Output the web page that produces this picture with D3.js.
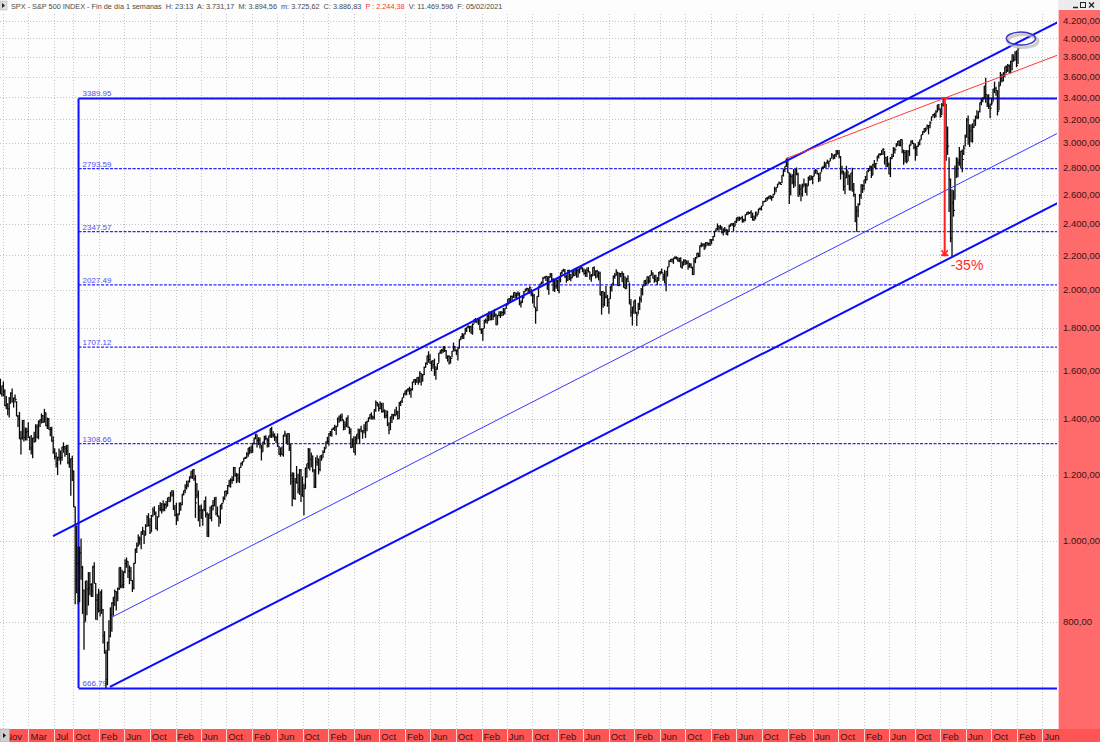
<!DOCTYPE html>
<html>
<head>
<meta charset="utf-8">
<script src="https://cdn.jsdelivr.net/npm/d3@7"></script>
<style>
  html, body { margin: 0; padding: 0; background: #fff; }
  svg { display: block; font-family: "Liberation Sans", Arial, sans-serif; }
</style>
</head>
<body>
<div id="chart"></div>
<script>

// weekly bars, first bar is the week ending 2007-10-19, one bar every 7 days
var firstWeek = "2007-10-19";

var weekHigh = [
  1565,1535,1553,1520,1492,1462,1488,1508,1523,1485,1498,
  1471,1416,1428,1355,1396,1396,1368,1367,1388,1335,1340,1330,1352,1380,1380,1395,1399,1422,1416,1440,1426,1406,1404,1370,1371,1335,1292,1278,1262,1291,1284,1297,1313,1300,1304,1304,1275,1256,1265,1215,1100,1044,985,985,1007,934,875,896,896,918,918,890,
  934,943,891,865,877,870,875,829,780,741,758,804,833,845,857,875,871,880,930,931,924,920,951,956,946,935,931,898,942,979,996,1018,1013,1027,1040,1029,1048,1074,1080,1065,1075,1097,1101,1085,1071,1105,1113,1111,1119,1110,1117,1127,1130,
  1145,1151,1150,1105,1112,1080,1112,1113,1139,1150,1170,1181,1182,1195,1214,1218,1220,1200,1174,1150,1104,1106,1092,1119,1131,1083,1078,1100,1103,1120,1129,1130,1100,1073,1105,1111,1131,1148,1150,1167,1184,1189,1196,1227,1227,1207,1205,1225,1241,1246,1258,1262,
  1278,1293,1297,1302,1311,1330,1344,1342,1332,1331,1303,1315,1337,1339,1328,1337,1364,1371,1354,1346,1334,1346,1300,1295,1298,1340,1356,1343,1347,1345,1307,1209,1208,1190,1230,1204,1220,1220,1195,1171,1224,1238,1293,1292,1277,1266,1219,1260,1267,1255,1265,1269,
  1285,1297,1316,1333,1346,1355,1363,1368,1378,1374,1405,1414,1419,1422,1396,1392,1406,1415,1370,1365,1328,1335,1335,1343,1364,1362,1374,1357,1380,1390,1394,1406,1419,1426,1413,1438,1474,1467,1460,1470,1464,1464,1438,1434,1433,1388,1409,1421,1420,1438,1448,1432,
  1467,1472,1485,1503,1514,1518,1525,1531,1525,1552,1564,1564,1570,1573,1597,1589,1585,1618,1636,1667,1688,1674,1644,1648,1654,1620,1632,1680,1693,1698,1710,1709,1693,1669,1670,1665,1689,1729,1712,1696,1704,1745,1759,1775,1771,1798,1804,1813,1810,1812,1823,1844,
  1850,1843,1850,1850,1799,1798,1841,1847,1867,1883,1883,1883,1884,1897,1873,1865,1885,1885,1885,1902,1901,1924,1950,1955,1968,1968,1985,1986,1984,1991,1985,1942,1964,1993,2006,2011,2008,2019,2005,1985,1977,1906,1965,2018,2034,2046,2071,2075,2079,2075,2077,2094,
  2093,2064,2056,2064,2057,2072,2097,2110,2119,2118,2083,2114,2114,2089,2103,2111,2120,2125,2117,2123,2134,2126,2121,2115,2126,2129,2101,2088,2128,2132,2110,2113,2105,2102,1993,1992,1988,2021,1972,1952,2020,2034,2080,2094,2116,2100,2097,2094,2104,2093,2076,2067,2082,
  2038,1950,1908,1940,1947,1881,1930,1963,2009,2022,2052,2056,2075,2074,2083,2111,2099,2084,2084,2072,2100,2106,2120,2091,2113,2104,2131,2169,2176,2178,2184,2194,2193,2187,2184,2187,2163,2176,2175,2165,2169,2154,2152,2132,2183,2189,2214,2214,2259,2278,2274,2273,
  2282,2279,2276,2300,2300,2319,2352,2368,2401,2387,2391,2382,2370,2378,2366,2362,2392,2399,2404,2405,2418,2440,2446,2448,2442,2453,2433,2463,2477,2484,2478,2491,2474,2454,2480,2475,2500,2509,2520,2553,2557,2576,2582,2588,2598,2590,2605,2657,2652,2679,2695,2692,
  2743,2787,2810,2873,2870,2763,2755,2747,2790,2787,2802,2761,2675,2673,2680,2718,2683,2682,2732,2742,2742,2736,2779,2791,2779,2760,2764,2801,2816,2848,2841,2863,2855,2877,2916,2900,2908,2941,2940,2940,2891,2816,2778,2765,2815,2775,2747,2760,2800,2685,2607,2520,
  2538,2604,2675,2672,2708,2738,2775,2796,2818,2816,2831,2860,2836,2893,2910,2917,2939,2954,2932,2885,2892,2841,2884,2910,2964,2960,2996,3014,3018,3028,3027,2944,2941,2939,2940,2985,3020,3022,3000,2993,2975,3008,3027,3067,3097,3121,3128,3155,3150,3183,3226,3248,
  3258,3282,3330,3338,3294,3347,3385,3393,3337,3137,2882,2718,2637,2632,2818,2880,2871,2965,2935,2945,2980,3068,3211,3233,3156,3155,3165,3200,3233,3280,3272,3352,3387,3399,3509,3588,3425,3429,3342,3397,3482,3550,3501,3465,3549,3646,3628,3644,3700,3712,3726,3723,3760,
  3826,3819,3860,3870,3895
];

var weekLow = [
  1500,1490,1490,1450,1438,1415,1406,1460,1467,1445,1465,
  1411,1370,1325,1270,1323,1316,1320,1320,1330,1285,1270,1257,1312,1315,1328,1324,1370,1383,1385,1387,1373,1362,1360,1335,1315,1272,1252,1225,1200,1248,1235,1248,1276,1262,1268,1236,1224,1133,1180,1098,840,866,840,845,899,818,741,801,815,837,861,857,
  857,890,805,804,821,812,818,754,733,667,672,739,767,779,814,836,826,847,874,878,878,878,915,929,903,888,896,869,875,940,968,985,990,978,1017,992,1016,1040,1041,1020,1026,1070,1074,1033,1029,1068,1086,1079,1085,1086,1093,1100,1114,
  1116,1130,1090,1071,1045,1056,1075,1087,1105,1134,1141,1153,1160,1175,1188,1187,1181,1066,1125,1056,1040,1064,1043,1086,1067,1011,1011,1063,1056,1088,1101,1074,1069,1040,1049,1091,1112,1120,1131,1138,1160,1159,1171,1180,1194,1173,1176,1174,1224,1232,1245,1254,
  1257,1262,1271,1275,1276,1305,1324,1294,1303,1291,1249,1279,1305,1321,1294,1295,1330,1329,1331,1318,1311,1296,1268,1262,1268,1262,1333,1309,1303,1282,1168,1101,1122,1121,1172,1140,1136,1114,1131,1074,1155,1191,1221,1215,1226,1209,1158,1158,1231,1202,1212,1248,
  1259,1275,1291,1309,1301,1335,1333,1358,1355,1340,1372,1386,1391,1392,1357,1358,1369,1367,1343,1292,1294,1277,1267,1306,1324,1309,1350,1326,1345,1329,1354,1389,1399,1398,1397,1398,1429,1449,1430,1438,1425,1426,1403,1403,1373,1343,1359,1385,1398,1411,1416,1398,
  1402,1451,1463,1485,1495,1495,1510,1497,1485,1515,1548,1538,1546,1539,1548,1536,1553,1581,1613,1625,1635,1631,1598,1608,1577,1560,1604,1635,1676,1676,1681,1684,1654,1640,1627,1633,1660,1688,1687,1670,1646,1700,1740,1746,1746,1768,1780,1799,1779,1772,1767,1821,
  1827,1823,1815,1790,1770,1737,1798,1824,1821,1834,1839,1839,1840,1856,1814,1816,1859,1850,1859,1862,1868,1899,1915,1925,1930,1944,1955,1952,1955,1965,1916,1904,1928,1955,1990,1991,1985,1978,1964,1926,1905,1821,1886,1960,2014,2030,2033,2064,2049,2002,1973,2069,
  2046,1992,1988,2005,1993,1981,2041,2086,2103,2067,2039,2049,2055,2048,2064,2075,2080,2067,2068,2092,2115,2099,2085,2072,2072,2097,2056,2044,2077,2078,2063,2067,2052,1970,1867,1903,1911,1953,1908,1872,1951,1990,2022,2062,2080,2022,2019,2070,2042,2012,2005,2005,2043,
  1922,1857,1812,1872,1872,1810,1871,1891,1931,1969,2018,2022,2035,2033,2039,2080,2063,2039,2044,2025,2050,2085,2090,2050,2037,1992,2074,2131,2159,2156,2148,2177,2173,2160,2158,2127,2119,2139,2141,2144,2114,2125,2122,2083,2085,2152,2182,2187,2191,2248,2254,2233,
  2245,2258,2258,2257,2267,2288,2313,2345,2355,2354,2359,2335,2322,2344,2328,2322,2348,2380,2386,2352,2382,2403,2415,2418,2428,2405,2407,2416,2458,2459,2464,2437,2420,2417,2428,2447,2468,2490,2488,2521,2545,2547,2556,2566,2566,2557,2577,2600,2617,2651,2676,2673,
  2683,2733,2768,2808,2759,2533,2594,2675,2647,2658,2742,2586,2594,2553,2586,2660,2612,2594,2665,2701,2707,2676,2735,2754,2749,2691,2698,2768,2789,2799,2796,2833,2802,2853,2876,2864,2871,2885,2903,2875,2710,2749,2628,2603,2722,2670,2631,2631,2621,2584,2409,2347,
  2443,2524,2570,2612,2631,2681,2705,2766,2774,2722,2743,2800,2786,2848,2873,2895,2899,2900,2825,2801,2805,2750,2728,2867,2884,2912,2963,2972,2970,2969,2914,2822,2840,2834,2853,2892,2980,2990,2946,2855,2892,2966,2980,3024,3064,3081,3091,3115,3070,3123,3184,3224,
  3210,3215,3263,3279,3214,3235,3315,3328,2855,2901,2478,2280,2192,2447,2563,2722,2727,2816,2798,2766,2900,2969,3045,2984,2965,3008,3001,3127,3142,3200,3205,3260,3327,3355,3388,3349,3310,3292,3209,3324,3358,3440,3415,3234,3279,3511,3545,3555,3594,3633,3647,3636,3633,
  3663,3750,3764,3694,3726
];

var weekClose = [
  1500,1535,1510,1453,1458,1440,1481,1504,1467,1484,1478,
  1411,1401,1325,1330,1395,1331,1349,1353,1330,1293,1288,1329,1315,1370,1332,1390,1397,1413,1388,1425,1375,1400,1360,1360,1318,1278,1262,1239,1260,1257,1260,1296,1298,1292,1282,1242,1251,1255,1213,1099,899,940,877,968,930,873,800,896,876,879,887,872,
  931,890,850,831,826,869,827,770,735,683,756,769,816,843,857,870,866,877,930,883,887,919,940,946,921,919,897,879,940,979,987,1010,1005,1026,1029,1016,1042,1068,1044,1025,1071,1087,1080,1036,1069,1093,1091,1091,1106,1106,1102,1127,1115,
  1145,1136,1092,1074,1066,1075,1109,1105,1139,1150,1160,1167,1179,1194,1192,1217,1187,1111,1136,1088,1089,1065,1092,1117,1076,1023,1078,1065,1103,1102,1122,1079,1071,1065,1105,1110,1125,1148,1147,1166,1176,1183,1183,1225,1200,1199,1189,1225,1240,1244,1257,1258,
  1271,1293,1283,1276,1310,1329,1343,1320,1321,1304,1279,1314,1332,1328,1320,1337,1364,1340,1338,1333,1331,1300,1271,1271,1268,1340,1344,1316,1345,1292,1199,1179,1124,1177,1174,1154,1216,1136,1131,1155,1224,1238,1285,1253,1264,1216,1159,1244,1255,1219,1265,1258,
  1278,1290,1315,1316,1345,1343,1362,1366,1370,1371,1404,1397,1408,1398,1370,1378,1403,1369,1353,1295,1317,1278,1325,1343,1335,1362,1355,1356,1363,1386,1391,1406,1418,1411,1407,1438,1466,1460,1441,1461,1429,1433,1412,1414,1380,1359,1409,1416,1418,1413,1430,1402,
  1466,1472,1485,1503,1513,1518,1520,1515,1518,1551,1560,1556,1569,1553,1588,1555,1582,1614,1634,1667,1650,1631,1643,1626,1593,1606,1632,1680,1692,1692,1710,1691,1655,1664,1633,1655,1688,1710,1692,1690,1703,1745,1759,1762,1771,1798,1805,1806,1805,1775,1818,1841,
  1831,1842,1839,1790,1783,1797,1838,1836,1859,1878,1841,1866,1857,1865,1816,1864,1863,1881,1878,1878,1900,1924,1950,1937,1963,1961,1985,1968,1978,1978,1925,1932,1955,1988,2003,2007,1985,2011,1982,1967,1906,1887,1964,2018,2032,2039,2064,2068,2075,2002,2070,2089,
  2058,2045,2019,2051,1995,2055,2097,2110,2105,2071,2053,2108,2061,2067,2102,2081,2117,2108,2116,2123,2126,2107,2092,2094,2110,2102,2077,2077,2127,2080,2104,2078,2092,1971,1989,1921,1961,1958,1931,1951,2015,2033,2075,2079,2100,2023,2089,2090,2092,2012,2005,2061,2044,
  1922,1880,1907,1940,1880,1865,1918,1948,1999,2022,2050,2035,2073,2048,2081,2092,2065,2057,2047,2052,2099,2099,2096,2071,2037,2103,2130,2162,2175,2173,2183,2184,2184,2169,2180,2128,2139,2165,2168,2153,2133,2141,2126,2085,2164,2182,2213,2192,2259,2258,2264,2239,
  2277,2275,2271,2295,2297,2316,2351,2367,2383,2373,2378,2344,2363,2356,2329,2349,2384,2399,2391,2382,2416,2439,2432,2433,2438,2423,2425,2459,2473,2472,2476,2441,2426,2443,2477,2461,2500,2502,2519,2549,2553,2575,2581,2588,2582,2579,2603,2642,2652,2676,2683,2674,
  2743,2786,2810,2873,2762,2620,2732,2747,2691,2786,2752,2588,2641,2604,2656,2670,2670,2663,2728,2713,2721,2735,2779,2780,2755,2718,2760,2801,2802,2819,2840,2833,2850,2875,2902,2872,2905,2930,2914,2886,2767,2768,2659,2723,2781,2736,2633,2760,2633,2600,2417,2486,
  2532,2596,2671,2665,2707,2708,2776,2793,2804,2743,2822,2801,2834,2893,2907,2905,2940,2946,2881,2860,2826,2752,2873,2887,2950,2942,2990,3014,2977,3026,2932,2919,2889,2847,2926,2979,3007,2992,2962,2952,2970,2986,3023,3067,3093,3120,3110,3141,3146,3169,3221,3240,
  3235,3265,3330,3295,3226,3328,3380,3338,2954,2972,2711,2305,2541,2489,2790,2875,2837,2831,2930,2864,2955,3044,3194,3041,3098,3009,3130,3185,3225,3216,3271,3351,3373,3397,3508,3427,3341,3319,3298,3348,3477,3484,3465,3270,3510,3585,3558,3638,3699,3663,3709,3703,3756,
  3825,3768,3841,3714,3887
];

// axis
var xStart = "2007-10-17", xEnd = "2021-08-15";
var tickDates = ["2007-11-01","2008-03-01","2008-07-01","2008-10-01",
  "2009-02-01","2009-06-01","2009-10-01","2010-02-01","2010-06-01","2010-10-01",
  "2011-02-01","2011-06-01","2011-10-01","2012-02-01","2012-06-01","2012-10-01",
  "2013-02-01","2013-06-01","2013-10-01","2014-02-01","2014-06-01","2014-10-01",
  "2015-02-01","2015-06-01","2015-10-01","2016-02-01","2016-06-01","2016-10-01",
  "2017-02-01","2017-06-01","2017-10-01","2018-02-01","2018-06-01","2018-10-01",
  "2019-02-01","2019-06-01","2019-10-01","2020-02-01","2020-06-01","2020-10-01",
  "2021-02-01","2021-06-01"];
var tickLabels = ["Nov","Mar","Jul","Oct",
  "Feb","Jun","Oct","Feb","Jun","Oct","Feb","Jun","Oct","Feb","Jun","Oct",
  "Feb","Jun","Oct","Feb","Jun","Oct","Feb","Jun","Oct","Feb","Jun","Oct",
  "Feb","Jun","Oct","Feb","Jun","Oct","Feb","Jun","Oct","Feb","Jun","Oct",
  "Feb","Jun"];
var priceTicks = [800,1000,1200,1400,1600,1800,2000,2200,2400,2600,2800,3000,3200,3400,3600,3800,4000,4200];

// drawn studies
var fibDate = "2008-10-26";
var fibLevels = [3389.95, 2793.59, 2347.57, 2027.49, 1707.12, 1308.66, 666.79];
var fibSolid = [true, false, false, false, false, false, true];

var channelUpper = [["2008-06-26", 1014], ["2021-08-15", 4185]];
var channelMid   = [["2009-04-04", 811],  ["2021-08-15", 3081]];
var channelLower = [["2009-03-25", 669],  ["2021-08-15", 2541]];
var redTrend     = [["2018-01-26", 2873], ["2021-08-15", 3821]];

var dropDate = "2020-02-21", dropFrom = 3393, dropTo = 2200, dropText = "-35%";
var circleDate = "2021-02-19", circleValue = 3998;

var titleParts = [
  {t: "SPX - S&P 500 INDEX - Fin de día 1 semanas  H: 23:13  A: 3.731,17  M: 3.894,56  m: 3.725,62  C: 3.886,83  ", c: "#4a4a4a"},
  {t: "P : 2.244,38", c: "#ff3333"},
  {t: "  V: 11.469.596  F: 05/02/2021", c: "#4a4a4a"}
];

var W = 1100, H = 742;
var plot = {left: 0, right: 1057, top: 12, bottom: 729};

var parseDate = d3.timeParse("%Y-%m-%d");
var es = d3.formatLocale({decimal: ",", thousands: ".", grouping: [3], currency: ["", ""]});
var priceFmt = es.format(",.2f");

var svg = d3.select("#chart").append("svg")
    .attr("width", W)
    .attr("height", H);

var x = d3.scaleTime()
    .domain([parseDate(xStart), parseDate(xEnd)])
    .range([plot.left, plot.right + 1]);

var y = d3.scaleLog()
    .domain([800, 4200])
    .range([622, 20.7]);

svg.append("rect").attr("width", W).attr("height", H).attr("fill", "#fdfdfd");

svg.append("defs").append("clipPath").attr("id", "plotclip")
  .append("rect")
    .attr("x", plot.left).attr("y", plot.top)
    .attr("width", plot.right - plot.left).attr("height", plot.bottom - plot.top);

// grid
var grid = svg.append("g").attr("stroke", "#c4c4c4").attr("stroke-dasharray", "1,2");
grid.selectAll("line.h")
  .data(priceTicks)
  .enter().append("line")
    .attr("x1", plot.left).attr("x2", plot.right)
    .attr("y1", function(d) { return Math.round(y(d)) + 0.5; })
    .attr("y2", function(d) { return Math.round(y(d)) + 0.5; });
grid.selectAll("line.v")
  .data(tickDates)
  .enter().append("line")
    .attr("x1", function(d) { return Math.round(x(parseDate(d))) + 0.5; })
    .attr("x2", function(d) { return Math.round(x(parseDate(d))) + 0.5; })
    .attr("y1", plot.top + 2).attr("y2", plot.bottom);

var g = svg.append("g").attr("clip-path", "url(#plotclip)");

// fibonacci box
var fx = x(parseDate(fibDate));
g.selectAll("line.fib")
  .data(fibLevels)
  .enter().append("line")
    .attr("x1", fx).attr("x2", plot.right)
    .attr("y1", function(d, i) { return fibSolid[i] ? Math.round(y(d)) + 0.5 : y(d); })
    .attr("y2", function(d, i) { return fibSolid[i] ? Math.round(y(d)) + 0.5 : y(d); })
    .attr("stroke", function(d, i) { return fibSolid[i] ? "#1010ff" : "#2828ff"; })
    .attr("stroke-width", function(d, i) { return fibSolid[i] ? 2 : 1.2; })
    .attr("stroke-dasharray", function(d, i) { return fibSolid[i] ? null : "3,1.5"; });
g.append("line")
    .attr("x1", fx).attr("x2", fx)
    .attr("y1", y(fibLevels[0])).attr("y2", y(fibLevels[fibLevels.length - 1]))
    .attr("stroke", "#1010ff").attr("stroke-width", 2);
g.selectAll("text.fib")
  .data(fibLevels)
  .enter().append("text")
    .attr("x", fx + 4)
    .attr("y", function(d) { return y(d) - 2; })
    .attr("font-size", 8)
    .attr("fill", "#4f4ff0")
    .text(function(d) { return d.toFixed(2); });

// price bars
var weeks = weekHigh.map(function(h, i) {
  return {date: d3.timeDay.offset(parseDate(firstWeek), 7 * i), high: h, low: weekLow[i], close: weekClose[i]};
});
var bars = g.append("g").attr("stroke", "#0a0a0a");
bars.selectAll("line.hl")
  .data(weeks)
  .enter().append("line")
    .attr("x1", function(d) { return x(d.date); })
    .attr("x2", function(d) { return x(d.date); })
    .attr("y1", function(d) { return y(d.high); })
    .attr("y2", function(d) { return y(d.low); })
    .attr("stroke-width", 1.3);
bars.selectAll("line.cl")
  .data(weeks)
  .enter().append("line")
    .attr("x1", function(d) { return x(d.date); })
    .attr("x2", function(d) { return x(d.date) + 1.6; })
    .attr("y1", function(d) { return y(d.close); })
    .attr("y2", function(d) { return y(d.close); })
    .attr("stroke-width", 1);

// channel and trend lines
function drawLine(pts, color, width) {
  g.append("line")
    .attr("x1", x(parseDate(pts[0][0]))).attr("y1", y(pts[0][1]))
    .attr("x2", x(parseDate(pts[1][0]))).attr("y2", y(pts[1][1]))
    .attr("stroke", color).attr("stroke-width", width);
}
drawLine(channelUpper, "#0a0aff", 2);
drawLine(channelLower, "#0a0aff", 2);
drawLine(channelMid, "#3a3aff", 1);
drawLine(redTrend, "#ff3a3a", 1);

// drawdown marker
var dx = x(parseDate(dropDate));
g.append("line")
    .attr("x1", dx).attr("x2", dx)
    .attr("y1", y(dropFrom)).attr("y2", y(dropTo))
    .attr("stroke", "#ff2020").attr("stroke-width", 2);
[dropFrom, dropTo].forEach(function(v) {
  g.append("line")
    .attr("x1", dx - 3.5).attr("x2", dx + 3.5)
    .attr("y1", y(v)).attr("y2", y(v))
    .attr("stroke", "#ff2020").attr("stroke-width", 2);
});
g.append("path")
    .attr("d", "M" + (dx - 3) + "," + (y(dropTo) - 5) + "L" + dx + "," + y(dropTo) + "L" + (dx + 3) + "," + (y(dropTo) - 5))
    .attr("fill", "none").attr("stroke", "#ff2020").attr("stroke-width", 1.5);
g.append("text")
    .attr("x", dx + 6).attr("y", y(dropTo) + 15)
    .attr("font-size", 14)
    .attr("fill", "#ff2a2a")
    .text(dropText);

// highlight ellipse
var ex = x(parseDate(circleDate)), ey = y(circleValue);
g.append("ellipse")
    .attr("cx", ex + 2).attr("cy", ey + 2.5).attr("rx", 15).attr("ry", 6.5)
    .attr("fill", "none").attr("stroke", "#b8b8b8").attr("stroke-width", 3).attr("opacity", 0.7);
g.append("ellipse")
    .attr("cx", ex).attr("cy", ey).attr("rx", 14.5).attr("ry", 6.5)
    .attr("fill", "none").attr("stroke", "#3838c8").attr("stroke-width", 1.5);

// right price panel
svg.append("rect")
    .attr("x", plot.right + 1).attr("y", 10)
    .attr("width", W - plot.right - 1).attr("height", plot.bottom - 10)
    .attr("fill", "#ff6a6a");
svg.append("line")
    .attr("x1", plot.right + 1.5).attr("x2", plot.right + 1.5)
    .attr("y1", 10).attr("y2", plot.bottom)
    .attr("stroke", "#ffc8c8");
svg.append("g").selectAll("text")
  .data(priceTicks)
  .enter().append("text")
    .attr("x", plot.right + 6)
    .attr("y", function(d) { return y(d); })
    .attr("dy", "0.35em")
    .attr("font-size", 9.5)
    .attr("fill", "#3a1414")
    .text(function(d) { return priceFmt(d); });

// bottom time bar
svg.append("rect")
    .attr("x", 0).attr("y", plot.bottom)
    .attr("width", W).attr("height", H - plot.bottom)
    .attr("fill", "#ff5454");
var tb = svg.append("g");
tb.selectAll("line")
  .data(tickDates)
  .enter().append("line")
    .attr("x1", function(d) { return Math.round(x(parseDate(d))) + 0.5; })
    .attr("x2", function(d) { return Math.round(x(parseDate(d))) + 0.5; })
    .attr("y1", plot.bottom).attr("y2", H)
    .attr("stroke", "#ffd2d2");
tb.selectAll("text")
  .data(tickDates)
  .enter().append("text")
    .attr("x", function(d) { return x(parseDate(d)) + 2; })
    .attr("y", H - 2)
    .attr("font-size", 9.5)
    .attr("fill", "#3a1414")
    .text(function(d, i) { return tickLabels[i]; });

// little scroll buttons
svg.append("rect").attr("x", 0).attr("y", plot.bottom).attr("width", 9.5).attr("height", H - plot.bottom)
    .attr("fill", "#cfcfcf").attr("stroke", "#a0a0a0").attr("stroke-width", 0.5);
svg.append("path").attr("d", "M3," + (plot.bottom + 4) + "L6," + (plot.bottom + 6.5) + "L3," + (plot.bottom + 9) + "Z").attr("fill", "#111");

// title
svg.append("rect").attr("x", 0).attr("y", 0).attr("width", plot.right + 1).attr("height", 11).attr("fill", "#fdfdfd");
svg.append("rect").attr("x", 0).attr("y", 1).attr("width", 7).attr("height", 9)
    .attr("fill", "#dedede").attr("stroke", "#b0b0b0").attr("stroke-width", 0.5);
svg.append("path").attr("d", "M2,3L5,5.5L2,8Z").attr("fill", "#222");
var title = svg.append("text").attr("x", 11).attr("y", 8.5).attr("font-size", 7.3);
title.selectAll("tspan")
  .data(titleParts)
  .enter().append("tspan")
    .attr("fill", function(d) { return d.c; })
    .attr("xml:space", "preserve")
    .style("white-space", "pre")
    .text(function(d) { return d.t; });

// window controls
svg.append("rect").attr("x", plot.right + 1).attr("y", 0).attr("width", W - plot.right - 1).attr("height", 10).attr("fill", "#ececec");
svg.append("line").attr("x1", 1073).attr("x2", 1078).attr("y1", 7.5).attr("y2", 7.5).attr("stroke", "#222").attr("stroke-width", 1.5);
svg.append("rect").attr("x", 1080.5).attr("y", 2.5).attr("width", 5).attr("height", 5).attr("fill", "none").attr("stroke", "#222");
svg.append("path").attr("d", "M1089,2.5L1094,7.5M1094,2.5L1089,7.5").attr("stroke", "#222").attr("stroke-width", 1.3);

</script>
</body>
</html>
